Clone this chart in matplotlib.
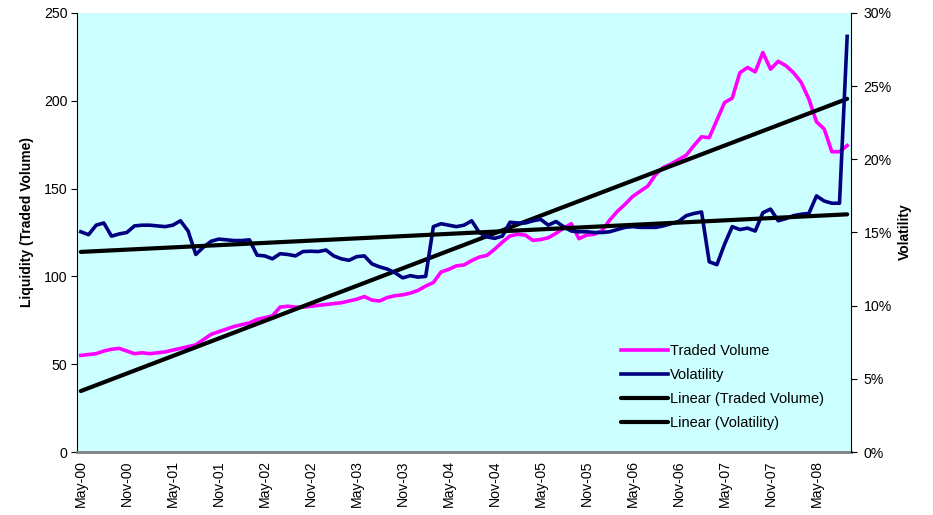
import numpy as np
import pandas as pd
import matplotlib
matplotlib.use("Agg")
import matplotlib.pyplot as plt
from matplotlib.ticker import FuncFormatter

plt.rcParams['font.family'] = ['Liberation Sans', 'DejaVu Sans']

# Monthly categories May-2000 .. Sep-2008
months = pd.period_range("2000-05", "2008-09", freq="M")

traded_volume = [
    55, 55.5, 56, 57.5, 58.5, 59, 57.5, 56, 56.5, 56,
    56.5, 57, 58, 59, 60, 61, 64, 67, 68.5, 70,
    71.5, 72.5, 73.5, 75.5, 76.5, 77.5, 82.5, 83, 82.5, 82.5,
    83, 83.5, 84, 84.5, 85, 86, 87, 88.5, 86.5, 86,
    88, 89, 89.5, 90.5, 92, 94.5, 96.5, 102.5, 104, 106,
    106.5, 109, 111, 112, 115.5, 119.5, 123, 124, 123.5, 120.5,
    121, 122, 124.5, 127.5, 130, 121.5, 123.5, 124, 126, 132,
    137, 141, 145.5, 148.5, 151.5, 158, 162, 164, 166.5, 169,
    174.5, 179.5, 179, 189, 199, 201.5, 216, 219, 216.5, 227.5,
    218, 222.5, 220, 216, 210.5, 201, 188, 184, 171, 171,
    174.5,
]

volatility = [
    15.05, 14.85, 15.5, 15.65, 14.75, 14.9, 15.0, 15.45, 15.5, 15.5,
    15.45, 15.4, 15.5, 15.8, 15.1, 13.5, 14.0, 14.4, 14.55, 14.5,
    14.45, 14.45, 14.5, 13.45, 13.4, 13.2, 13.55, 13.5, 13.4, 13.7,
    13.72, 13.7, 13.8, 13.4, 13.2, 13.1, 13.35, 13.4, 12.85, 12.65,
    12.5, 12.25, 11.9, 12.05, 11.95, 12.0, 15.4, 15.6, 15.5, 15.4,
    15.5, 15.8, 15.0, 14.7, 14.6, 14.75, 15.7, 15.65, 15.65, 15.8,
    15.9, 15.5, 15.75, 15.4, 15.1, 15.05, 15.05, 15.0, 15.0, 15.05,
    15.2, 15.35, 15.4, 15.35, 15.35, 15.35, 15.45, 15.6, 15.75, 16.15,
    16.3, 16.4, 13.0, 12.8, 14.2, 15.4, 15.2, 15.3, 15.1, 16.35,
    16.6, 15.8, 15.95, 16.15, 16.25, 16.3, 17.5, 17.15, 17.0, 17.0,
    28.4,
]

tick_labels = ["May-00", "Nov-00", "May-01", "Nov-01", "May-02", "Nov-02",
               "May-03", "Nov-03", "May-04", "Nov-04", "May-05", "Nov-05",
               "May-06", "Nov-06", "May-07", "Nov-07", "May-08"]

left_ticks = [0, 50, 100, 150, 200, 250]
right_ticks = [0, 0.05, 0.10, 0.15, 0.20, 0.25, 0.30]

x = np.arange(len(months))
tv = np.array(traded_volume)
vol = np.array(volatility) / 100.0

W, H = 933, 515
fig = plt.figure(figsize=(W / 100, H / 100), dpi=100)
L, R, T, B = 77, 851, 13, 452
ax = fig.add_axes([L / W, 1 - B / H, (R - L) / W, (B - T) / H])
ax.set_facecolor('#CCFFFF')
ax2 = ax.twinx()

lw = 2.6
l1, = ax.plot(x, tv, color='#FF00FF', lw=lw, solid_joinstyle='round', label='Traded Volume', zorder=3)
l2, = ax2.plot(x, vol, color='#000080', lw=lw, solid_joinstyle='round', label='Volatility', zorder=3)

c1 = np.polyfit(x, tv, 1)
c2 = np.polyfit(x, vol, 1)
xe = np.array([x[0], x[-1]])
l3, = ax.plot(xe, np.polyval(c1, xe), color='black', lw=3.0, solid_capstyle='round',
              label='Linear (Traded Volume)', zorder=4)
l4, = ax2.plot(xe, np.polyval(c2, xe), color='black', lw=3.0, solid_capstyle='round',
               label='Linear (Volatility)', zorder=4)

ax.set_xlim(-0.5, len(months) - 0.5)
ax.set_ylim(0, 250)
ax2.set_ylim(0, 0.30)
ax.set_yticks(left_ticks)
ax2.set_yticks(right_ticks)
ax2.yaxis.set_major_formatter(FuncFormatter(lambda v, p: f"{round(v * 100):d}%"))

ax.set_xticks(np.arange(0, len(months), 6)[:len(tick_labels)])
ax.set_xticklabels(tick_labels, rotation=90, fontsize=10.2)
ax.tick_params(axis='x', length=0, pad=6)
ax.tick_params(axis='y', labelsize=10.2, length=4, direction='out', pad=3)
ax2.tick_params(axis='y', labelsize=10.2, length=4, direction='out', pad=5)

for s in ['top']:
    ax.spines[s].set_visible(False)
    ax2.spines[s].set_visible(False)
ax.spines['bottom'].set_color('#808080')
ax.spines['bottom'].set_linewidth(2)
ax.spines['left'].set_color('black')
ax2.spines['right'].set_color('black')
ax2.spines['left'].set_visible(False)
ax2.spines['bottom'].set_visible(False)
ax.spines['right'].set_visible(False)

fig.text(27 / W, 1 - 222 / H, 'Liquidity (Traded Volume)', rotation=90, fontsize=10,
         fontweight='bold', ha='center', va='center')
fig.text(905 / W, 1 - 232 / H, 'Volatility', rotation=90, fontsize=10,
         fontweight='bold', ha='center', va='center')

fig.legend(handles=[l1, l2, l3, l4], loc='upper left',
           bbox_to_anchor=(621 / W, 1 - 344 / H), frameon=False, fontsize=10.5,
           handlelength=3.25, handletextpad=0.12, labelspacing=0.68, borderpad=0,
           borderaxespad=0)

fig.savefig('out.png', dpi=100)
